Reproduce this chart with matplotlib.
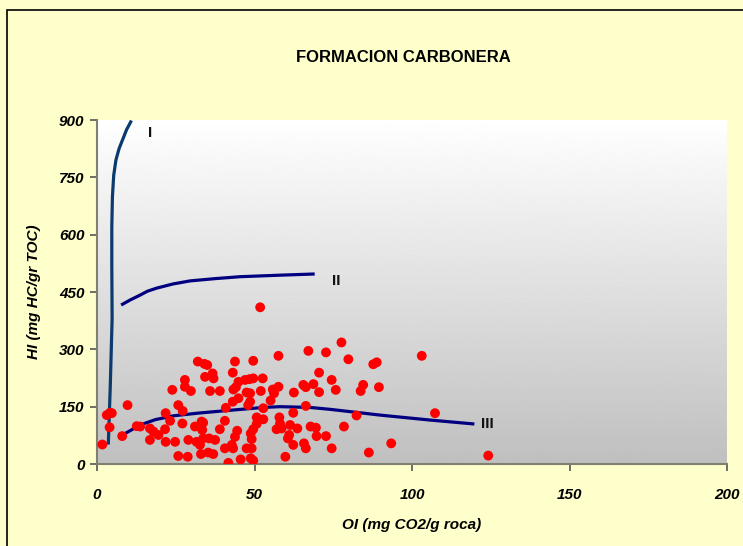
import matplotlib

matplotlib.use("Agg")
import matplotlib.pyplot as plt
import numpy as np
from matplotlib.patches import Rectangle

# Pyrolysis samples: oxygen index vs hydrogen index
oi = [1.7, 4.1, 3.1, 4.7, 4.0, 9.7, 8.0, 12.6, 13.7, 16.8, 17.9, 16.8, 19.5,
      21.6, 21.8, 23.2, 21.8, 24.8, 23.9, 25.8, 27.2, 27.1, 27.9, 27.9, 29.8,
      25.8, 28.8, 29.0, 31.1, 31.6, 32.7, 33.0, 32.0, 34.1, 34.3, 33.2, 33.4,
      35.0, 36.7, 37.0, 35.9, 39.0, 43.8, 49.6, 57.6, 67.1, 43.1, 44.9, 47.0,
      48.4, 49.6, 52.6, 43.3, 44.1, 48.6, 47.5, 52.0, 55.8, 57.6, 56.2, 55.1,
      44.9, 43.1, 48.6, 48.0, 40.9, 62.5, 65.5, 66.3, 52.8, 40.6, 33.7, 50.7,
      52.8, 50.7, 49.6, 57.9, 58.1, 62.3, 66.3, 61.3, 63.6, 57.0, 58.6, 61.0,
      60.6, 39.0, 43.8, 44.5, 48.8, 49.1, 37.5, 35.6, 33.7, 40.6, 42.8, 43.2,
      47.5, 49.1, 36.9, 35.3, 41.7, 45.6, 48.8, 49.6, 59.8, 62.3, 65.7, 66.3,
      77.6, 72.7, 79.8, 87.7, 88.8, 70.5, 74.5, 68.7, 70.5, 75.8, 84.5, 83.7,
      89.5, 82.4, 78.4, 67.8, 69.5, 69.7, 72.7, 74.5, 86.3, 93.4, 103.1, 107.3,
      124.2, 51.8]
hi = [51, 134, 128, 133, 96, 154, 73, 99, 98, 93, 85, 63, 76,
      91, 133, 113, 58, 58, 194, 154, 139, 106, 220, 202, 191,
      21, 19, 63, 98, 58, 50, 26, 268, 262, 228, 111, 89,
      259, 237, 224, 191, 191, 268, 270, 283, 296, 239, 215, 220,
      222, 224, 224, 195, 201, 185, 187, 191, 195, 202, 185, 166,
      172, 163, 163, 154, 147, 187, 207, 201, 146, 113, 108, 122,
      117, 105, 91, 122, 106, 134, 152, 102, 93, 91, 93, 76,
      67, 91, 71, 87, 80, 65, 63, 67, 67, 41, 50, 41,
      41, 41, 26, 30, 3, 12, 15, 9, 19, 50, 54, 41,
      318, 292, 274, 261, 266, 239, 220, 209, 188, 194, 207, 191,
      201, 127, 98, 98, 95, 73, 73, 41, 30, 54, 283, 133,
      22, 410]

# Kerogen type reference curves
type1_oi = [3.6, 4.2, 4.8, 4.7, 4.7, 4.9, 5.3, 6.0, 7.0, 8.2, 9.4, 10.7]
type1_hi = [55, 200, 380, 520, 620, 700, 755, 795, 825, 850, 875, 895]
type2_oi = [8.1, 10.5, 13.7, 16.0, 18.9, 24.1, 29.5, 37.5, 45.4, 58.1, 68.6]
type2_hi = [418, 429, 442, 452, 460, 471, 479, 485, 490, 494, 497]
type3_oi = [8.1, 13.7, 18.5, 24.2, 32.0, 40.1, 52.8, 58.1, 67.6, 74.0, 89.8,
            105.7, 119.3]
type3_hi = [76, 102, 116, 126, 133, 139, 148, 150, 148, 143, 128, 115, 105]

x_ticks = [0, 50, 100, 150, 200]
y_ticks = [0, 150, 300, 450, 600, 750, 900]

plt.rcParams["font.family"] = ["Liberation Sans", "DejaVu Sans"]

fig = plt.figure(figsize=(7.43, 5.46), dpi=100)
fig.patch.set_facecolor("#ffffcc")
fig.patches.append(Rectangle((7 / 743, -0.1), 1.1, 1.1 - 10 / 546,
                             transform=fig.transFigure, fill=False,
                             edgecolor="black", linewidth=1.2))

ax = fig.add_axes([97 / 743, 1 - 464 / 546, 630 / 743, 344 / 546])

# white-to-grey background gradient
grad = np.linspace(1.0, 0.75, 256).reshape(-1, 1)
ax.imshow(grad, cmap="gray", vmin=0, vmax=1, aspect="auto",
          extent=[0, 200, 0, 900], origin="upper", zorder=0)

ax.plot(type1_oi, type1_hi, color="#0b3a6e", lw=2.3, zorder=2,
        solid_joinstyle="round")
ax.plot(type2_oi, type2_hi, color="#000080", lw=2.3, zorder=2,
        solid_joinstyle="round")
ax.plot(type3_oi, type3_hi, color="#000080", lw=2.3, zorder=2,
        solid_joinstyle="round")
ax.scatter(oi, hi, s=50, color="#ff0000", edgecolors="none", zorder=3)

lbl = dict(fontsize=11, fontweight="bold", color="#111111",
           ha="center", va="center", zorder=4)
ax.text(16.8, 866, "I", **lbl)
ax.text(75.9, 479, "II", **lbl)
ax.text(123.8, 105, "III", **lbl)

ax.set_xlim(0, 200)
ax.set_ylim(0, 900)
ax.set_xticks(x_ticks)
ax.set_yticks(y_ticks)
tick_font = dict(fontsize=11, fontweight="bold", fontstyle="italic")
ax.set_xticklabels([str(t) for t in x_ticks], **tick_font)
ax.set_yticklabels([str(t) for t in y_ticks], **tick_font)
ax.tick_params(direction="out", length=5, width=1.2, color="#555555",
               pad=12)
ax.tick_params(axis="y", pad=4)

for side in ("top", "right"):
    ax.spines[side].set_visible(False)
for side in ("left", "bottom"):
    ax.spines[side].set_color("#808070")
    ax.spines[side].set_linewidth(1.5)

ax.set_xlabel("OI (mg CO2/g roca)", fontsize=11, fontweight="bold",
              fontstyle="italic", labelpad=12)
ax.set_ylabel("HI (mg HC/gr TOC)", fontsize=11, fontweight="bold",
              fontstyle="italic", labelpad=13)
fig.text(403 / 743, 1 - 57 / 546, "FORMACION CARBONERA", fontsize=12,
         fontweight="bold", ha="center", va="center")

fig.savefig("out.png", dpi=100, facecolor=fig.get_facecolor())
